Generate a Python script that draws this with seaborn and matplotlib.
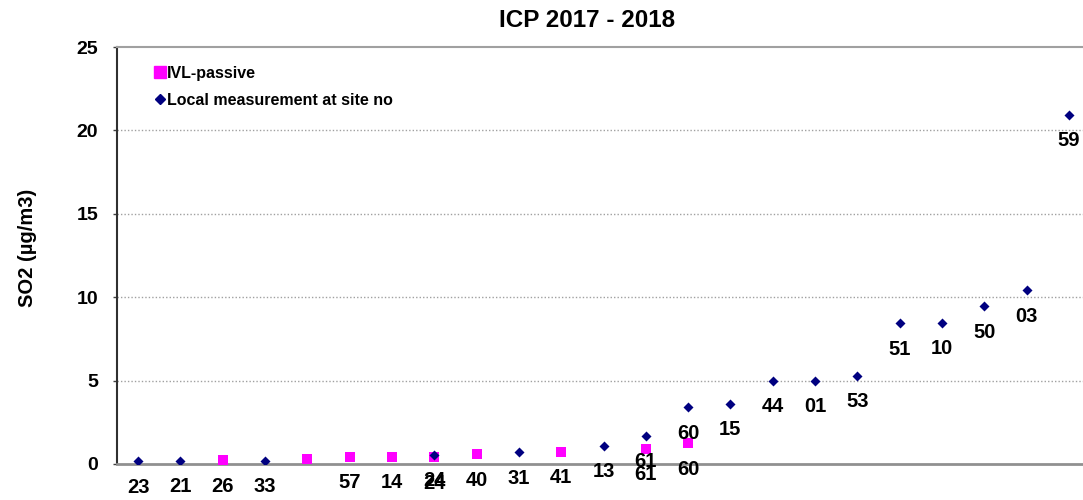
import matplotlib
matplotlib.use("Agg")
import matplotlib.pyplot as plt
import seaborn as sns
import pandas as pd
from matplotlib.lines import Line2D

# ---- data ----
local_pos = [0, 1, 3, 7, 9, 11, 12, 13, 14, 15, 16, 17, 18, 19, 20, 21, 22]
local_val = [0.15, 0.2, 0.2, 0.54, 0.7, 1.1, 1.7, 3.4, 3.6, 5.0, 5.0, 5.3, 8.45, 8.47, 9.47, 10.43, 20.95]
local_lbl = ["23", "21", "33", "24", "31", "13", "61", "60", "15", "44", "01", "53", "51", "10", "50", "03", "59"]

ivl_pos = [2, 4, 5, 6, 7, 8, 10, 12, 13]
ivl_val = [0.22, 0.32, 0.42, 0.43, 0.4, 0.58, 0.74, 0.9, 1.24]
ivl_lbl = ["26", "", "57", "14", "24", "40", "41", "61", "60"]

y_ticks = [0, 5, 10, 15, 20, 25]
title = "ICP 2017 - 2018"
ylabel = "SO2 (µg/m3)"
series_names = ["IVL-passive", "Local measurement at site no"]

sns.set_theme(style="white")
plt.rcParams['font.family'] = ['Liberation Sans', 'DejaVu Sans']
plt.rcParams['font.weight'] = 'bold'
plt.rcParams['text.color'] = 'black'
plt.rcParams['axes.labelcolor'] = 'black'
plt.rcParams['ytick.color'] = 'black'
plt.rcParams['xtick.color'] = 'black'

W, H = 1083, 500
fig = plt.figure(figsize=(W / 100, H / 100), dpi=100)
L, R, T, B = 117, 1090, 47, 464
ax = fig.add_axes([L / W, 1 - B / H, (R - L) / W, (B - T) / H])

df_ivl = pd.DataFrame({"pos": ivl_pos, "val": ivl_val})
df_loc = pd.DataFrame({"pos": local_pos, "val": local_val})

sns.scatterplot(data=df_ivl, x="pos", y="val", marker="s", s=52, color="#FF00FF",
                edgecolor="#FF00FF", linewidth=0, ax=ax, zorder=3)
sns.scatterplot(data=df_loc, x="pos", y="val", marker="D", s=26, color="#000080",
                edgecolor="#000080", linewidth=0, ax=ax, zorder=4)

for x, y, t in zip(ivl_pos, ivl_val, ivl_lbl):
    if t:
        ax.annotate(t, (x, y), xytext=(0, -26), textcoords="offset pixels",
                    ha="center", va="center", fontsize=14.5, fontweight="bold", color="black")
for x, y, t in zip(local_pos, local_val, local_lbl):
    ax.annotate(t, (x, y), xytext=(0, -26), textcoords="offset pixels",
                ha="center", va="center", fontsize=14.5, fontweight="bold", color="black",
                annotation_clip=False)

ax.set_xlim(-0.5, 22.5)
ax.set_ylim(0, 25)
ax.set_xticks([])
ax.set_yticks(y_ticks)
ax.set_yticklabels([str(v) for v in y_ticks], fontsize=14, fontweight="bold", color="black")
ax.tick_params(axis="y", direction="out", length=3, width=1, color="#404040", pad=10.5, left=True)
ax.set_xlabel("")

for v in y_ticks[1:-1]:
    ax.axhline(v, color="#A0A0A0", linestyle=(0, (1, 1.5)), linewidth=1, zorder=1)

ax.spines["left"].set_color("#303030")
ax.spines["left"].set_linewidth(1.5)
ax.spines["bottom"].set_color("#909090")
ax.spines["bottom"].set_linewidth(2)
ax.spines["top"].set_color("#A0A0A0")
ax.spines["top"].set_linewidth(1.5)
ax.spines["right"].set_visible(False)

ax.set_ylabel(ylabel, fontsize=14.5, fontweight="bold", color="black")
ax.yaxis.set_label_coords((37 - L) / (R - L), (B - 248) / (B - T))

ax.set_title(title, fontsize=17.5, fontweight="bold", color="black", x=(587 - L) / (R - L),
             y=(B - 20) / (B - T), va="center", pad=0)

handles = [
    Line2D([], [], marker="s", linestyle="none", color="#FF00FF", markersize=8),
    Line2D([], [], marker="D", linestyle="none", color="#000080", markersize=5.5),
]
leg = ax.legend(handles, series_names, loc="upper left",
                bbox_to_anchor=(155 / W, 1 - 66 / H), bbox_transform=fig.transFigure,
                frameon=False, handlelength=0.6, handletextpad=0.15, labelspacing=0.75,
                borderpad=0, borderaxespad=0, prop={"size": 11.5, "weight": "bold"})
for txt in leg.get_texts():
    txt.set_color("black")

fig.savefig("out.png", dpi=100)
